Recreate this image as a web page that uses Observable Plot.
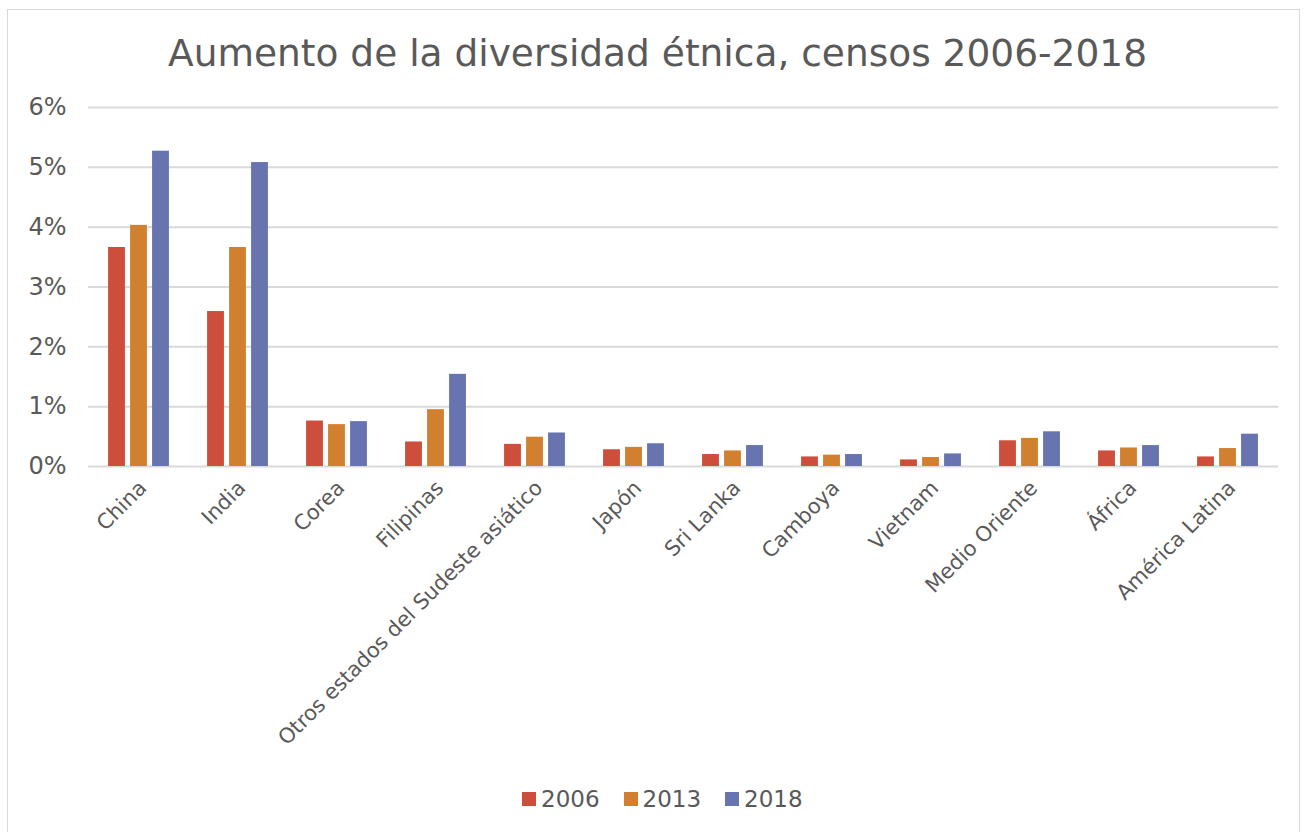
<!DOCTYPE html>
<html><head><meta charset="utf-8">
<script src="https://cdn.jsdelivr.net/npm/d3@7"></script>
<script src="https://cdn.jsdelivr.net/npm/@observablehq/plot@0.6"></script>
<style>
body{margin:0;background:#fff;font-family:"DejaVu Sans",Verdana,sans-serif;overflow:hidden;}
#frame{position:absolute;left:7px;top:9px;width:1291px;height:840px;border:1px solid #d9d9d9;}
#title{position:absolute;left:0;width:1315px;top:31px;text-align:center;font-size:37.5px;color:#595959;white-space:nowrap;}
#chart{position:absolute;left:0;top:0;}
#legend{position:absolute;top:786px;left:522px;display:flex;align-items:center;font-size:23px;color:#595959;white-space:nowrap;}
#legend .it{display:flex;align-items:center;margin-right:24px;}
#legend .sw{width:14px;height:14px;margin-right:5px;}
</style></head>
<body>
<div id="frame"></div>
<div id="title">Aumento de la diversidad étnica, censos 2006-2018</div>
<div id="chart"></div>
<div id="legend"></div>
<script>
const categories = ["China","India","Corea","Filipinas","Otros estados del Sudeste asiático","Japón","Sri Lanka","Camboya","Vietnam","Medio Oriente","África","América Latina"];
const years = ["2006","2013","2018"];
const colors = ["#cd4e3a","#d18030","#6774b0"];
const v2006 = [0.0366,0.0259,0.0076,0.0041,0.0037,0.0028,0.0020,0.0016,0.0011,0.0043,0.0026,0.0016];
const v2013 = [0.0403,0.0366,0.0070,0.0095,0.0049,0.0032,0.0026,0.0019,0.0015,0.0047,0.0031,0.0030];
const v2018 = [0.0527,0.0508,0.0075,0.0154,0.0056,0.0038,0.0035,0.0020,0.0021,0.0058,0.0035,0.0054];
const yTicks = [0,0.01,0.02,0.03,0.04,0.05,0.06];

const series = [v2006, v2013, v2018];
const data = years.flatMap((y,i)=>categories.map((c,j)=>({cat:c,year:y,value:series[i][j]})));

const W = 1307, H = 770, mL = 88, mR = 29, mT = 107, base = 466;
const step = (W - mL - mR) / categories.length;
const barW = 17, off = 22, inset = (step - barW) / 2;

const chart = Plot.plot({
  width: W, height: H,
  marginLeft: mL, marginRight: mR, marginTop: mT, marginBottom: H - base,
  style: {fontFamily: "DejaVu Sans, Verdana, sans-serif", color: "#595959", background: "transparent"},
  x: {domain: categories, padding: 0, label: null},
  y: {domain: [0, 0.06], label: null},
  marks: [
    Plot.gridY(yTicks, {stroke: "#d9d9d9", strokeOpacity: 1, strokeWidth: 2}),
    ...years.map((y,i)=>Plot.barY(data.filter(d=>d.year===y), {
      x: "cat", y: "value", fill: colors[i], insetLeft: inset, insetRight: inset, dx: (i-1)*off
    })),
    Plot.axisY(yTicks, {tickSize: 0, tickPadding: 22, fontSize: 24, tickFormat: d3.format(".0%"), label: null}),
    Plot.axisX({tickRotate: -45, tickSize: 0, tickPadding: 18, fontSize: 21, dx: 4, label: null})
  ]
});
document.getElementById("chart").appendChild(chart);

const lg = document.getElementById("legend");
years.forEach((y,i)=>{
  const it = document.createElement("div"); it.className="it";
  const sw = document.createElement("div"); sw.className="sw"; sw.style.background=colors[i];
  const t = document.createElement("span"); t.textContent=y;
  it.appendChild(sw); it.appendChild(t); lg.appendChild(it);
});
</script>
</body></html>
